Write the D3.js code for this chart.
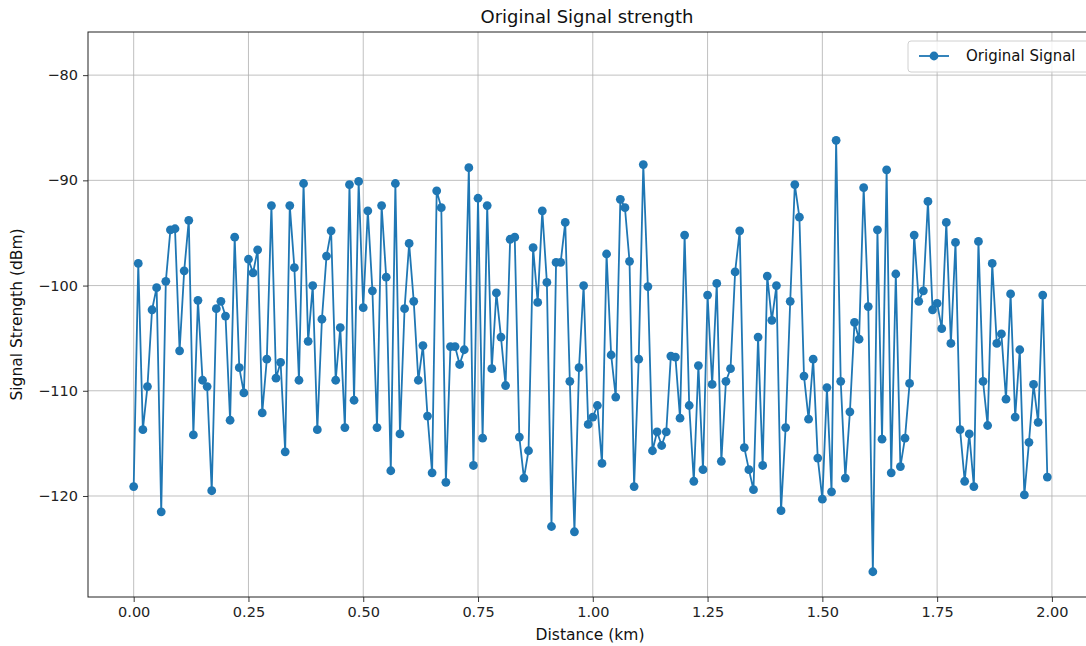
<!DOCTYPE html>
<html>
<head>
<meta charset="utf-8">
<script src="https://cdn.jsdelivr.net/npm/d3@7"></script>
<style>
html,body{margin:0;padding:0;background:#fff;}
svg{display:block;font-family:"DejaVu Sans",sans-serif;}
</style>
</head>
<body>
<svg id="chart" width="1086" height="646"></svg>
<script>
const distances = [0.00,0.01,0.02,0.03,0.04,0.05,0.06,0.07,0.08,0.09,0.10,0.11,0.12,0.13,0.14,0.15,0.16,0.17,0.18,0.19,
0.20,0.21,0.22,0.23,0.24,0.25,0.26,0.27,0.28,0.29,0.30,0.31,0.32,0.33,0.34,0.35,0.36,0.37,0.38,0.39,
0.40,0.41,0.42,0.43,0.44,0.45,0.46,0.47,0.48,0.49,0.50,0.51,0.52,0.53,0.54,0.55,0.56,0.57,0.58,0.59,
0.60,0.61,0.62,0.63,0.64,0.65,0.66,0.67,0.68,0.69,0.70,0.71,0.72,0.73,0.74,0.75,0.76,0.77,0.78,0.79,
0.80,0.81,0.82,0.83,0.84,0.85,0.86,0.87,0.88,0.89,0.90,0.91,0.92,0.93,0.94,0.95,0.96,0.97,0.98,0.99,
1.00,1.01,1.02,1.03,1.04,1.05,1.06,1.07,1.08,1.09,1.10,1.11,1.12,1.13,1.14,1.15,1.16,1.17,1.18,1.19,
1.20,1.21,1.22,1.23,1.24,1.25,1.26,1.27,1.28,1.29,1.30,1.31,1.32,1.33,1.34,1.35,1.36,1.37,1.38,1.39,
1.40,1.41,1.42,1.43,1.44,1.45,1.46,1.47,1.48,1.49,1.50,1.51,1.52,1.53,1.54,1.55,1.56,1.57,1.58,1.59,
1.60,1.61,1.62,1.63,1.64,1.65,1.66,1.67,1.68,1.69,1.70,1.71,1.72,1.73,1.74,1.75,1.76,1.77,1.78,1.79,
1.80,1.81,1.82,1.83,1.84,1.85,1.86,1.87,1.88,1.89,1.90,1.91,1.92,1.93,1.94,1.95,1.96,1.97,1.98,1.99];

const signal = [-119.1,-97.9,-113.7,-109.6,-102.3,-100.2,-121.5,-99.6,-94.7,-94.6,
-106.2,-98.6,-93.8,-114.2,-101.4,-109.0,-109.6,-119.5,-102.2,-101.5,
-102.9,-112.8,-95.4,-107.8,-110.2,-97.5,-98.8,-96.6,-112.1,-107.0,
-92.4,-108.8,-107.3,-115.8,-92.4,-98.3,-109.0,-90.3,-105.3,-100.0,
-113.7,-103.2,-97.2,-94.8,-109.0,-104.0,-113.5,-90.4,-110.9,-90.1,
-102.1,-92.9,-100.5,-113.5,-92.4,-99.2,-117.6,-90.3,-114.1,-102.2,
-96.0,-101.5,-109.0,-105.7,-112.4,-117.8,-91.0,-92.6,-118.7,-105.8,
-105.8,-107.5,-106.1,-88.8,-117.1,-91.7,-114.5,-92.4,-107.9,-100.7,
-104.9,-109.5,-95.6,-95.4,-114.4,-118.3,-115.7,-96.4,-101.6,-92.9,
-99.7,-122.9,-97.8,-97.8,-94.0,-109.1,-123.4,-107.8,-100.0,-113.2,
-112.5,-111.4,-116.9,-97.0,-106.6,-110.6,-91.8,-92.6,-97.7,-119.1,
-107.0,-88.5,-100.1,-115.7,-113.9,-115.2,-113.9,-106.7,-106.8,-112.6,
-95.2,-111.4,-118.6,-107.6,-117.5,-100.9,-109.4,-99.8,-116.7,-109.1,
-107.9,-98.7,-94.8,-115.4,-117.5,-119.4,-104.9,-117.1,-99.1,-103.3,
-100.0,-121.4,-113.5,-101.5,-90.4,-93.5,-108.6,-112.7,-107.0,-116.4,
-120.3,-109.7,-119.6,-86.2,-109.1,-118.3,-112.0,-103.5,-105.1,-90.7,
-102.0,-127.2,-94.7,-114.6,-89.0,-117.8,-98.9,-117.2,-114.5,-109.3,
-95.2,-101.5,-100.5,-92.0,-102.3,-101.7,-104.1,-94.0,-105.5,-95.9,
-113.7,-118.6,-114.1,-119.1,-95.8,-109.1,-113.3,-97.9,-105.5,-104.6,
-110.8,-100.8,-112.5,-106.1,-119.9,-114.9,-109.4,-113.0,-100.9,-118.2];

const xTicks = [0.00,0.25,0.50,0.75,1.00,1.25,1.50,1.75,2.00];
const yTicks = [-120,-110,-100,-90,-80];
const xDomain = [-0.0995, 2.0895];
const yDomain = [-129.6, -75.9];

const svg = d3.select("#chart");
const L = 88, R = 1093, T = 32, B = 597;
const x = d3.scaleLinear().domain(xDomain).range([L, R]);
const y = d3.scaleLinear().domain(yDomain).range([B, T]);
const color = "#1f77b4";

svg.append("rect").attr("width",1086).attr("height",646).attr("fill","#fff");

// grid
const grid = svg.append("g");
grid.selectAll(".gx").data(xTicks).enter().append("line")
  .attr("x1", d=>x(d)).attr("x2", d=>x(d)).attr("y1", T).attr("y2", B)
  .attr("stroke","#b0b0b0").attr("stroke-width",0.8);
grid.selectAll(".gy").data(yTicks).enter().append("line")
  .attr("x1", L).attr("x2", R).attr("y1", d=>y(d)).attr("y2", d=>y(d))
  .attr("stroke","#b0b0b0").attr("stroke-width",0.8);

// axes
const fmtX = d3.format(".2f");
const xAxis = svg.append("g").attr("transform",`translate(0,${B})`)
  .call(d3.axisBottom(x).tickValues(xTicks).tickFormat(fmtX).tickSize(5).tickPadding(5).tickSizeOuter(0));
const yAxis = svg.append("g").attr("transform",`translate(${L},0)`)
  .call(d3.axisLeft(y).tickValues(yTicks).tickFormat(d3.format("d")).tickSize(5).tickPadding(5).tickSizeOuter(0));
[xAxis,yAxis].forEach(a=>{
  a.select(".domain").remove();
  a.selectAll("text").attr("font-size","14.5px").attr("fill","#222").attr("font-family","DejaVu Sans");
  a.selectAll("line").attr("stroke","#222").attr("stroke-width",0.9);
});

// frame
svg.append("rect").attr("x",L).attr("y",T).attr("width",R-L).attr("height",B-T)
  .attr("fill","none").attr("stroke","#222").attr("stroke-width",1);

// line + markers
const pts = distances.map((d,i)=>({d, v: signal[i]}));
svg.append("path").datum(pts)
  .attr("fill","none").attr("stroke",color).attr("stroke-width",1.8)
  .attr("stroke-linejoin","round")
  .attr("d", d3.line().x(p=>x(p.d)).y(p=>y(p.v)));
svg.append("g").selectAll("circle").data(pts).enter().append("circle")
  .attr("cx", p=>x(p.d)).attr("cy", p=>y(p.v)).attr("r",4.4).attr("fill",color);

// title & labels
svg.append("text").attr("x",587).attr("y",23).attr("text-anchor","middle")
  .attr("font-size","18px").attr("fill","#111").text("Original Signal strength");
svg.append("text").attr("x",590).attr("y",640).attr("text-anchor","middle")
  .attr("font-size","15.5px").attr("fill","#111").text("Distance (km)");
svg.append("text").attr("transform",`translate(22,${(T+B)/2}) rotate(-90)`).attr("text-anchor","middle")
  .attr("font-size","15.5px").attr("fill","#111").text("Signal Strength (dBm)");

// legend
const lg = svg.append("g");
lg.append("rect").attr("x",908).attr("y",41).attr("width",190).attr("height",31).attr("rx",3)
  .attr("fill","#fff").attr("fill-opacity",0.8).attr("stroke","#d0d0d0").attr("stroke-width",1);
lg.append("line").attr("x1",919).attr("x2",949).attr("y1",56).attr("y2",56)
  .attr("stroke",color).attr("stroke-width",1.8);
lg.append("circle").attr("cx",934).attr("cy",56).attr("r",4.4).attr("fill",color);
lg.append("text").attr("x",966).attr("y",61).attr("font-size","15px").attr("fill","#111").text("Original Signal");
</script>
</body>
</html>
